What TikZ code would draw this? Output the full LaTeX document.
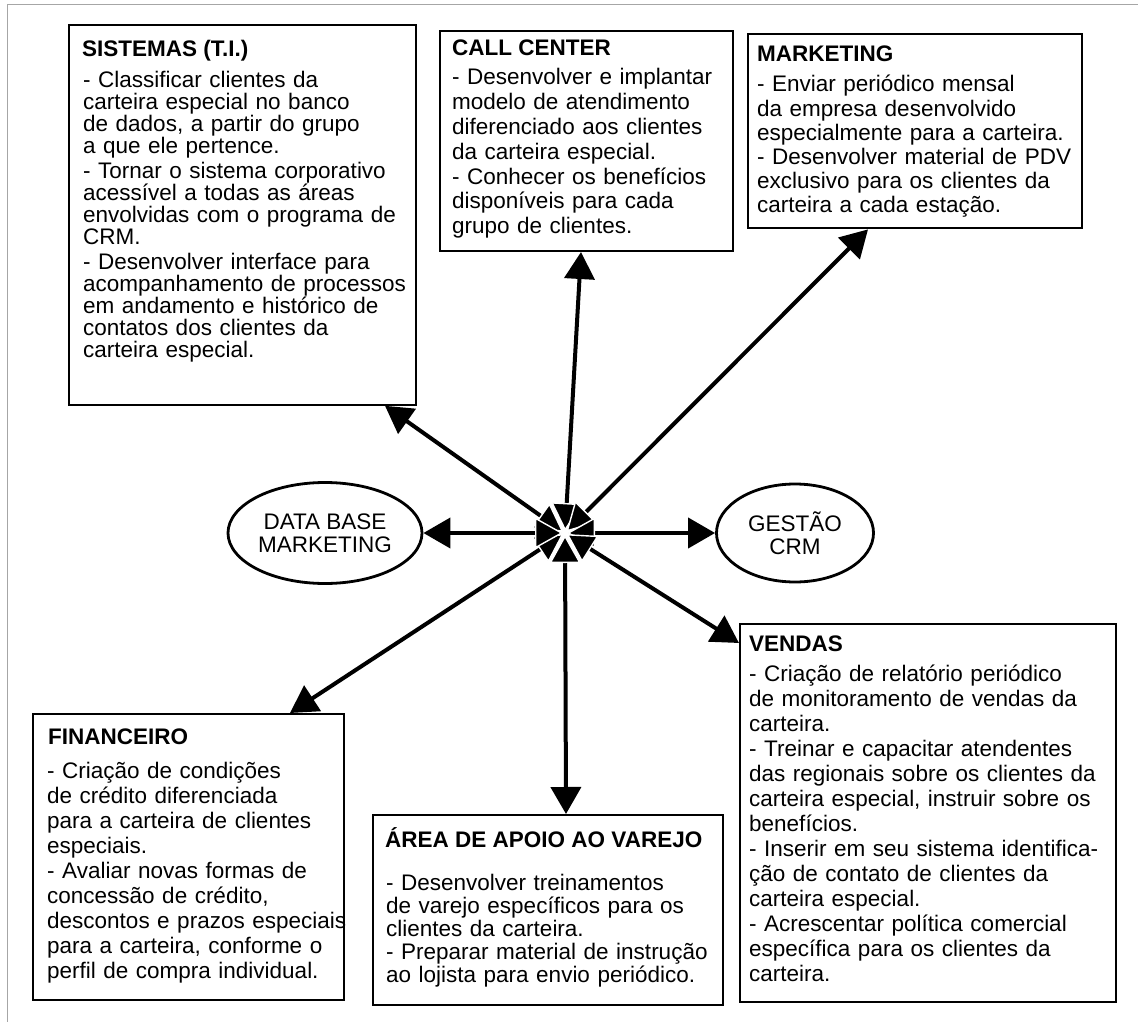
\documentclass[tikz,border=0pt]{standalone}
\usepackage{fontspec}
\setmainfont{Liberation Sans}
\usetikzlibrary{arrows.meta,shapes.geometric}

\begin{document}
\begin{tikzpicture}[x=1pt,y=-1pt,
  boxframe/.style={draw=black, line width=1.8pt, rectangle, inner sep=0pt, anchor=north west},
  headtext/.style={anchor=base west, inner sep=0pt, font=\fontsize{22.5}{24}\selectfont\bfseries},
  bodytext/.style={anchor=base west, inner sep=0pt, align=left, text width=400pt,
                   font=\fontsize{22.5}{#1}\selectfont},
  oval/.style={ellipse, draw=black, line width=2.8pt, inner sep=0pt, align=center,
               font=\fontsize{22.5}{23}\selectfont},
  hubtip/.tip={Triangle[length=28pt,width=31pt,fill=black,color=white,line width=1.4pt]},
  endtip/.tip={Triangle[length=27pt,width=30pt]},
  link/.style={line width=4pt, hubtip-endtip, shorten <=2pt}
]
% page and scanned frame edges
\fill[white] (0,0) rectangle (1138,1022);
\useasboundingbox (0,0) rectangle (1138,1022);
\draw[gray!70, line width=1pt] (7,1022) -- (7,5) -- (1138,5);

% department boxes
\node[boxframe, minimum width=347pt, minimum height=380pt] (sis) at (68,24) {};
\node[headtext] (sisH) at (82,57) {SISTEMAS (T.I.)};
\node[bodytext=22pt] (sisB) at (83,88) {- Classificar clientes da\\
carteira especial no banco\\
de dados, a partir do grupo\\
a que ele pertence.\\[3pt]
- Tornar o sistema corporativo\\
acessível a todas as áreas\\
envolvidas com o programa de\\
CRM.\\[3pt]
- Desenvolver interface para\\
acompanhamento de processos\\
em andamento e histórico de\\
contatos dos clientes da\\
carteira especial.};

\node[boxframe, minimum width=293pt, minimum height=220pt, line width=2pt] (call) at (439,30) {};
\node[headtext] (callH) at (452,56) {CALL CENTER};
\node[bodytext=24.8pt] (callB) at (452,85) {- Desenvolver e implantar\\
modelo de atendimento\\
diferenciado aos clientes\\
da carteira especial.\\
- Conhecer os benefícios\\
disponíveis para cada\\
grupo de clientes.};

\node[boxframe, minimum width=334pt, minimum height=194pt, line width=2.4pt] (mkt) at (747,33) {};
\node[headtext] (mktH) at (757,62) {MARKETING};
\node[bodytext=24.2pt] (mktB) at (757,92) {- Enviar periódico mensal\\
da empresa desenvolvido\\
especialmente para a carteira.\\
- Desenvolver material de PDV\\
exclusivo para os clientes da\\
carteira a cada estação.};

\node[boxframe, minimum width=311pt, minimum height=286pt, line width=1.6pt] (fin) at (32,713) {};
\node[headtext] (finH) at (48,744) {FINANCEIRO};
\node[bodytext=25.1pt] (finB) at (47,778) {- Criação de condições\\
de crédito diferenciada\\
para a carteira de clientes\\
especiais.\\
- Avaliar novas formas de\\
concessão de crédito,\\
descontos e prazos especiais\\
para a carteira, conforme o\\
perfil de compra individual.};

\node[boxframe, minimum width=350pt, minimum height=190pt, line width=2.4pt] (area) at (372,814) {};
\node[headtext] (areaH) at (385,847) {ÁREA DE APOIO AO VAREJO};
\node[bodytext=23pt] (areaB) at (386,890) {- Desenvolver treinamentos\\
de varejo específicos para os\\
clientes da carteira.\\
- Preparar material de instrução\\
ao lojista para envio periódico.};

\node[boxframe, minimum width=376pt, minimum height=378pt, line width=2pt] (ven) at (739,623) {};
\node[headtext] (venH) at (749,651) {VENDAS};
\node[bodytext=25pt] (venB) at (749,681) {- Criação de relatório periódico\\
de monitoramento de vendas da\\
carteira.\\
- Treinar e capacitar atendentes\\
das regionais sobre os clientes da\\
carteira especial, instruir sobre os\\
benefícios.\\
- Inserir em seu sistema identifica-\\
ção de contato de clientes da\\
carteira especial.\\
- Acrescentar política comercial\\
específica para os clientes da\\
carteira.};

% ovals beside the hub
\node[oval, minimum width=194pt, minimum height=101pt] (db) at (325,533) {DATA BASE\\MARKETING};
\node[oval, minimum width=157pt, minimum height=98pt] (gc) at (795,533) {GESTÃO\\CRM};

% hub and double-headed connectors
\coordinate (hub) at (565,533);
\draw[link] (hub) -- ([xshift=317pt]sis.south west);
\draw[link] (hub) -- ([xshift=142pt]call.south west);
\draw[link] (hub) -- ([xshift=121pt]mkt.south west);
\draw[link] (hub) -- (gc);
\draw[link] (hub) -- ([yshift=-20pt]ven.north west);
\draw[link] (hub) -- ([xshift=194pt]area.north west);
\draw[link] (hub) -- ([xshift=258pt]fin.north west);
\draw[link] (hub) -- (db);
\end{tikzpicture}
\end{document}
